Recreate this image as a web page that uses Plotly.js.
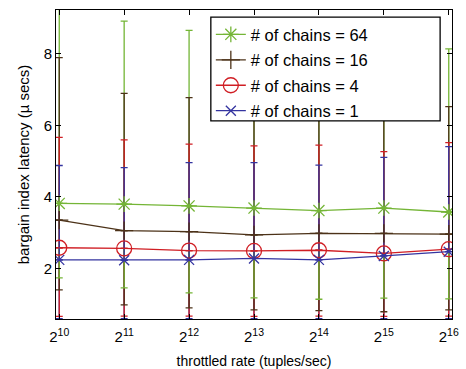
<!DOCTYPE html>
<html>
<head>
<meta charset="utf-8">
<script src="https://cdn.plot.ly/plotly-3.0.1.min.js"></script>
<style>
  html, body { margin: 0; padding: 0; background: #fff; }
  #chart { width: 466px; height: 369px; }
</style>
</head>
<body>
<div id="chart"></div>
<script>
// Throttled input rates (tuples/sec) and their tick labels
const rates = [1024, 2048, 4096, 8192, 16384, 32768, 65536];
const rateLabels = ['2<sup>10</sup>', '2<sup>11</sup>', '2<sup>12</sup>', '2<sup>13</sup>',
                    '2<sup>14</sup>', '2<sup>15</sup>', '2<sup>16</sup>'];

// Mean latency and min/max bounds per chain count (µs)
const mean64  = [3.82, 3.80, 3.75, 3.69, 3.62, 3.69, 3.58];
const upper64 = [9.60, 8.92, 8.66, 8.39, 8.20, 8.41, 8.14];
const lower64 = [1.74, 1.46, 1.32, 1.18, 1.14, 1.17, 1.15];

const mean16  = [3.35, 3.06, 3.03, 2.94, 2.98, 2.98, 2.96];
const upper16 = [7.90, 6.90, 6.78, 6.53, 6.60, 6.59, 6.53];
const lower16 = [1.40, 0.98, 0.90, 0.84, 0.82, 0.79, 0.84];

const mean4  = [2.58, 2.56, 2.50, 2.49, 2.51, 2.42, 2.54];
const upper4 = [5.67, 5.60, 5.48, 5.43, 5.45, 5.27, 5.52];
const lower4 = [0.66, 0.67, 0.67, 0.66, 0.67, 0.66, 0.67];

const mean1  = [2.24, 2.23, 2.24, 2.28, 2.24, 2.35, 2.47];
const upper1 = [4.88, 4.82, 4.96, 4.96, 4.89, 5.11, 5.41];
const lower1 = [0.60, 0.60, 0.60, 0.60, 0.60, 0.60, 0.60];

const seriesNames = ['# of chains = 64', '# of chains = 16', '# of chains = 4', '# of chains = 1'];

const series = [
  { name: seriesNames[0], mean: mean64, upper: upper64, lower: lower64,
    color: 'rgb(116,181,54)', symbol: 'asterisk-open', size: 13 },
  { name: seriesNames[1], mean: mean16, upper: upper16, lower: lower16,
    color: 'rgb(76,50,24)', symbol: 'cross-thin-open', size: 13 },
  { name: seriesNames[2], mean: mean4, upper: upper4, lower: lower4,
    color: 'rgb(208,30,36)', symbol: 'circle-open', size: 15 },
  { name: seriesNames[3], mean: mean1, upper: upper1, lower: lower1,
    color: 'rgb(52,52,160)', symbol: 'x-thin-open', size: 10 }
];

const diff = (a, b) => a.map((v, i) => v - b[i]);
const zeros = rates.map(() => 0);

function errorTrace(s, part) {
  const up = part === 'up';
  return {
    x: rates, y: s.mean, type: 'scatter', mode: 'markers',
    marker: { color: 'rgba(0,0,0,0)', size: 1 },
    showlegend: false, hoverinfo: 'skip',
    error_y: {
      type: 'data', symmetric: false,
      array: up ? diff(s.upper, s.mean) : zeros,
      arrayminus: up ? zeros : diff(s.mean, s.lower),
      color: s.color, thickness: 1.3, width: 3.5
    }
  };
}

const traces = [];
// lower whiskers: small chain counts underneath
[3, 2, 1, 0].forEach(i => traces.push(errorTrace(series[i], 'down')));
// upper whiskers: large chain counts underneath
[0, 1, 2, 3].forEach(i => traces.push(errorTrace(series[i], 'up')));
// mean lines with markers
series.forEach((s, i) => traces.push({
  x: rates, y: s.mean, type: 'scatter', mode: 'lines+markers', name: s.name,
  legendgroup: 'g' + i,
  line: { color: s.color, width: 1.3 },
  marker: { symbol: s.symbol, size: s.size, color: s.color, line: { color: s.color, width: 1.3 } }
}));

const l2 = Math.log10(2);
const layout = {
  width: 466, height: 369,
  margin: { l: 56, r: 14, t: 10, b: 50 },
  paper_bgcolor: '#fff', plot_bgcolor: '#fff',
  font: { family: 'Liberation Sans, Arial, sans-serif', size: 14, color: '#000' },
  xaxis: {
    type: 'log',
    range: [Math.log10(rates[0]) - 0.05 * l2, Math.log10(rates[rates.length - 1]) + 0.05 * l2],
    tickvals: rates, ticktext: rateLabels,
    ticks: 'inside', ticklen: 5, tickcolor: '#000', mirror: 'allticks',
    showline: true, linecolor: '#000', linewidth: 1, showgrid: false, zeroline: false,
    tickfont: { size: 15 }, ticklabelstandoff: 4,
    title: { text: 'throttled rate (tuples/sec)', font: { size: 14 }, standoff: 14 }
  },
  yaxis: {
    range: [0.587, 9.23],
    tickvals: [2, 4, 6, 8],
    ticks: 'inside', ticklen: 5, tickcolor: '#000', mirror: 'allticks',
    showline: true, linecolor: '#000', linewidth: 1, showgrid: false, zeroline: false,
    tickfont: { size: 15 },
    title: { text: 'bargain index latency (µ secs)', font: { size: 15 }, standoff: 10 }
  },
  // opaque legend frame, wider than the entries
  shapes: [{
    type: 'rect', xref: 'paper', yref: 'paper', layer: 'above',
    x0: 0.391, x1: 0.970, y0: 0.641, y1: 0.977,
    fillcolor: '#fff', line: { color: '#000', width: 1.3 }
  }],
  legend: {
    x: 0.391, y: 0.977, xanchor: 'left', yanchor: 'top',
    bgcolor: 'rgba(0,0,0,0)', borderwidth: 0,
    font: { size: 16.5 }, traceorder: 'grouped', tracegroupgap: 1
  },
  showlegend: true
};

Plotly.newPlot('chart', traces, layout, { displayModeBar: false, staticPlot: true });
</script>
</body>
</html>
